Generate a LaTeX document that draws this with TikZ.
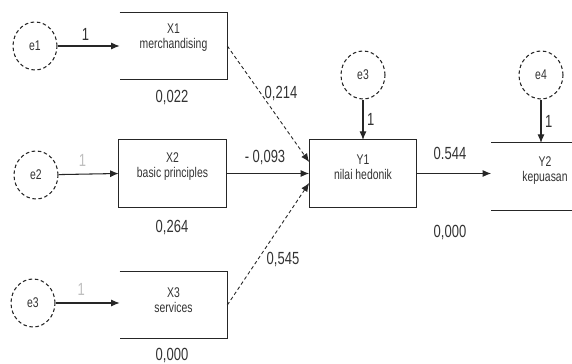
\documentclass[tikz,border=0pt]{standalone}
\usepackage{fontspec}
\newfontfamily\narrowsans{Liberation Sans}[FakeStretch=0.74]
\usetikzlibrary{arrows.meta,shapes.geometric}

\tikzset{
  ink/.style={draw=black!85,line width=0.6pt},
  errnode/.style={ink,ellipse,dash pattern=on 2pt off 1.5pt,minimum width=0.88cm,minimum height=0.96cm,inner sep=0pt,font=\narrowsans\fontsize{8}{8.5}\selectfont,text=black!80},
  varbox/.style={minimum width=2.14cm,minimum height=1.33cm,inner sep=0pt},
  boxtext/.style={align=center,inner sep=0pt,font=\narrowsans\fontsize{8}{8.6}\selectfont,text=black!80},
  coef/.style={inner sep=0pt,font=\narrowsans\fontsize{10}{12}\selectfont,text=black!80},
  path/.style={ink,-{Latex[length=1.7mm,width=1.4mm]}},
  dpath/.style={path,dash pattern=on 2pt off 1.5pt,line width=0.5pt}
}

\begin{document}
\begin{tikzpicture}[x=0.02cm,y=-0.02cm]
  \useasboundingbox[fill=white] (0,0) rectangle (572,364);

  % boxes
  \node[varbox] (x1) at (173.5,46) {};
  \node[varbox] (x2) at (172.5,173.5) {};
  \node[varbox] (x3) at (173.5,305) {};
  \node[varbox] (y1) at (363,173.5) {};
  \node[varbox] (y2) at (545,176.5) {};
  \draw[ink] (x1.north west)--(x1.north east)--(x1.south east)--(x1.south west);
  \draw[ink] (x2.north west) rectangle (x2.south east);
  \draw[ink] (x3.north west)--(x3.north east)--(x3.south east)--(x3.south west);
  \draw[ink] (y1.north west) rectangle (y1.south east);
  \draw[ink] (y2.north west)--(572,0 |- y2.north);
  \draw[ink] (y2.south west)--(572,0 |- y2.south);

  \node[boxtext] (x1t) at ([yshift=0.17cm]x1.center) {X1\\merchandising};
  \node[boxtext] (x2t) at ([yshift=0.14cm]x2.center) {X2\\basic principles};
  \node[boxtext] (x3t) at ([yshift=0.1cm]x3.center) {X3\\services};
  \node[boxtext] (y1t) at ([yshift=0.12cm]y1.center) {Y1\\nilai hedonik};
  \node[boxtext] (y2t) at ([yshift=0.12cm]y2.center) {Y2\\kepuasan};

  % error terms
  \node[errnode] (e1) at (35,46) {e1};
  \node[errnode] (e2) at (36,175) {e2};
  \node[errnode] (e3a) at (33,303) {e3};
  \node[errnode] (e3) at (363,75) {e3};
  \node[errnode] (e4) at (541,75) {e4};

  \draw[path] (e1) -- (x1.west) node[coef,pos=0.45,above=3pt]{1};
  \draw[path] (e2) -- (x2.west) node[coef,pos=0.4,above=4pt,text=black!25]{1};
  \draw[path] (e3a) -- (x3.west |- e3a) node[coef,pos=0.4,above=4pt,text=black!25]{1};
  \draw[path] (e3) -- (y1.north) node[coef,midway,right=2pt]{1};
  \draw[path] (e4) -- (e4 |- y2.north) node[coef,midway,right=2pt]{1};

  % structural paths
  \coordinate (in1) at ([yshift=0.23cm]y1.west);
  \coordinate (in3) at ([yshift=-0.19cm]y1.west);
  \draw[dpath] (x1.east) -- (in1);
  \draw[path] (x2.east) -- (y1.west);
  \draw[dpath] (x3.east) -- (in3);
  \draw[path] (y1.east) -- (y1.east -| y2.west);

  % coefficients
  \node[coef] (c1) at (281,93) {0,214};
  \node[coef] (c2) at (265,157) {- 0,093};
  \node[coef] (c3) at (283,259) {0,545};
  \node[coef] (c4) at (450,153) {0.544};
  \node[coef] (r1) at (172,97) {0,022};
  \node[coef] (r2) at (172,227) {0,264};
  \node[coef] (r3) at (172,355) {0,000};
  \node[coef] (r4) at (450,232) {0,000};
\end{tikzpicture}
\end{document}
